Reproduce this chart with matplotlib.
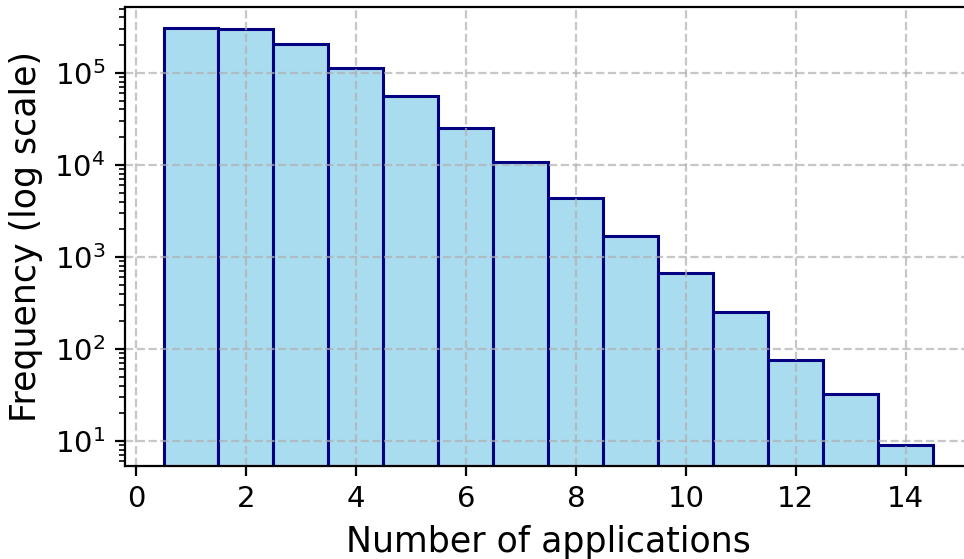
import matplotlib
matplotlib.use("Agg")
import matplotlib.pyplot as plt

apps = [1, 2, 3, 4, 5, 6, 7, 8, 9, 10, 11, 12, 13, 14]
counts = [308000, 300000, 207000, 113000, 56000, 25000, 10800, 4400, 1700, 670, 255, 76, 32, 9]

fig = plt.figure(figsize=(4.82, 2.795), dpi=200)
ax = fig.add_axes([0.1297, 0.1664, 0.8783, 0.8211])
ax.bar(apps, counts, width=1.0, color=(135/255, 206/255, 235/255, 0.7),
       edgecolor="navy", linewidth=1.1)
ax.set_yscale("log")
ax.set_xlim(-0.2, 15.2)
ax.set_ylim(5.35, 5.2e5)
ax.set_xticks([0, 2, 4, 6, 8, 10, 12, 14])
ax.tick_params(labelsize=10.5)
ax.set_xlabel("Number of applications", fontsize=12.5)
ax.set_ylabel("Frequency (log scale)", fontsize=12.5)
ax.grid(True, linestyle="--", alpha=0.7)
fig.savefig("out.png", dpi=200)
